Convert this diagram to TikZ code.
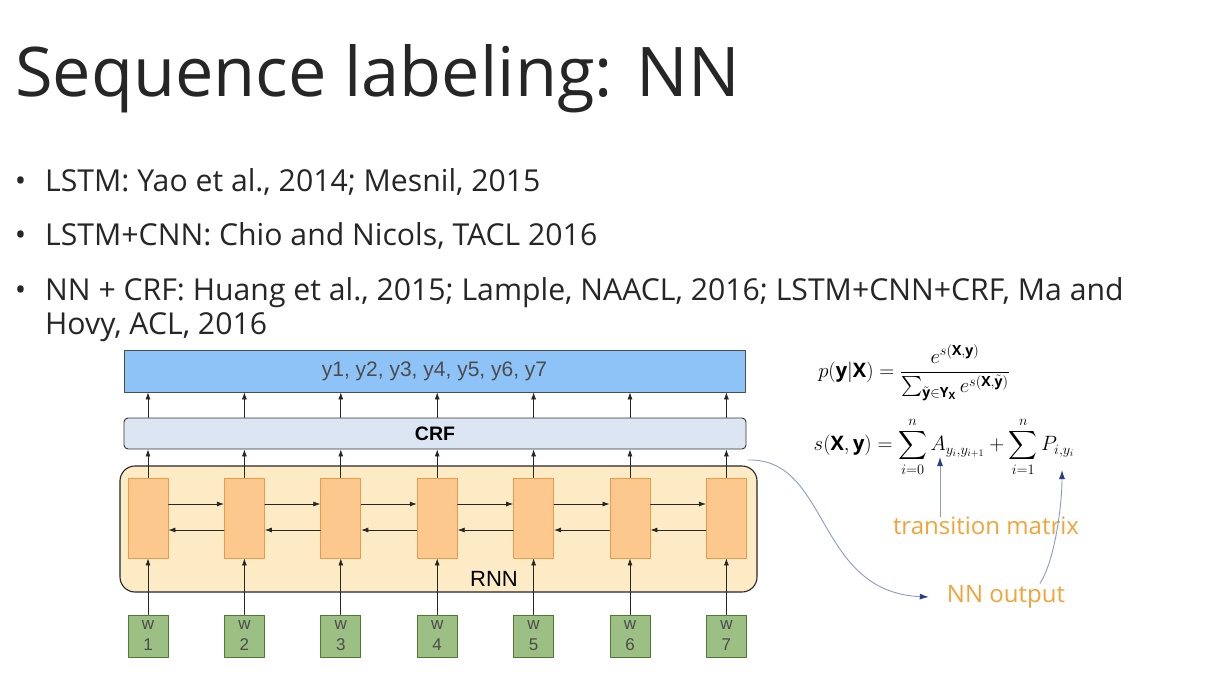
\documentclass[tikz,border=0pt]{standalone}
\usepackage{amsmath,amssymb}
\usepackage{fontspec}
\setmainfont{Open Sans}
\newfontfamily\diagfont{Liberation Sans}
\usetikzlibrary{arrows.meta,calc,positioning}
\definecolor{slidetext}{HTML}{262626}
\definecolor{outblue}{HTML}{8EC3F7}
\definecolor{crffill}{HTML}{DCE6F2}
\definecolor{rnnfill}{HTML}{FDEBC6}
\definecolor{cellfill}{HTML}{FCC88E}
\definecolor{cellline}{HTML}{EE9A4A}
\definecolor{wordfill}{HTML}{9CC084}
\definecolor{wordline}{HTML}{4E7A35}
\definecolor{noteorange}{HTML}{F2A43A}
\definecolor{noteline}{HTML}{8E9CC0}
\definecolor{notehead}{HTML}{2B3C8C}
\newcommand{\slidebullet}{\makebox[0pt][r]{\textbullet\hspace{19pt}}}
\tikzset{
every picture/.style={line cap=round,line join=round},
slide title/.style={anchor=base west, inner sep=0pt, text=slidetext,
  font=\fontsize{68.5}{72}\selectfont},
bullet text/.style={anchor=base west, inner sep=0pt, text=slidetext,
  font=\fontsize{30.2}{34}\selectfont},
out box/.style={draw=black!70, fill=outblue, line width=0.8pt,
  minimum width=621pt, minimum height=42pt, inner sep=0pt,
  font=\diagfont\fontsize{21}{24}\selectfont, text=black!70},
crf box/.style={draw=black!80, fill=crffill, rounded corners=4pt, line width=0.9pt,
  minimum width=622pt, minimum height=31pt, inner sep=0pt,
  font=\diagfont\bfseries\fontsize{19.5}{22}\selectfont},
rnn box/.style={draw=black!85, fill=rnnfill, rounded corners=15pt, line width=1.1pt,
  minimum width=637pt, minimum height=126pt, inner sep=0pt},
rnn label/.style={inner sep=0pt, font=\diagfont\fontsize{22}{24}\selectfont},
cell/.style={draw=cellline, fill=cellfill, line width=0.9pt,
  minimum width=40pt, minimum height=80pt, inner sep=0pt},
word box/.style={draw=wordline, fill=wordfill, line width=0.9pt,
  minimum width=40pt, minimum height=42pt, inner sep=0pt, align=center,
  font=\diagfont\fontsize{17}{21}\selectfont, text=black!70},
fig flow/.style={draw=black!85, -{Latex[length=7pt,width=5pt]}, line width=0.7pt},
formula/.style={inner sep=0pt, font=\fontsize{20}{24}\selectfont},
note label/.style={inner sep=0pt, text=noteorange, font=\fontsize{24}{28}\selectfont},
note arrow/.style={draw=noteline, line width=0.9pt,
  -{Latex[length=9pt,width=6pt,color=notehead]}}
}
\begin{document}
\begin{tikzpicture}[x=1pt,y=-1pt]
\useasboundingbox[fill=white] (0,0) rectangle (1205,679);

% title and bullets
\node[slide title] (title) at (15,97) {Sequence labeling: NN};
\node[bullet text] (b1) at (45,192) {\slidebullet LSTM: Yao et al., 2014; Mesnil, 2015};
\node[bullet text] (b2) at (45,246) {\slidebullet LSTM+CNN: Chio and Nicols, TACL 2016};
\node[bullet text] (b3) at (45,300) {\slidebullet NN + CRF: Huang et al., 2015; Lample, NAACL, 2016; LSTM+CNN+CRF, Ma and};
\node[bullet text] (b4) at (45,334) {Hovy, ACL, 2016};

% layers
\node[rnn box] (rnn) at (438.5,529) {};
\node[rnn label] (rnnlab) at (494,579) {RNN};
\node[crf box] (crf) at (435,433.5) {CRF};
\node[out box] (out) at (434.5,371) {y1, y2, y3, y4, y5, y6, y7};

\foreach \i in {1,...,7} {
  \node[cell] (c\i) at ({148+(\i-1)*96.4},518) {};
  \node[word box] (w\i) at ({148+(\i-1)*96.4},636) {w\\\i};
  \draw[fig flow] (w\i.north) -- (c\i.south);
  \draw[fig flow] (c\i.north) -- (c\i.north |- crf.south);
  \draw[fig flow] (c\i.north |- crf.north) -- (c\i.north |- out.south);
}
\foreach \i [evaluate=\i as \j using int(\i+1)] in {1,...,6} {
  \draw[fig flow] ([yshift=14pt]c\i.east) -- ([yshift=14pt]c\j.west);
  \draw[fig flow] ([yshift=-12pt]c\j.west) -- ([yshift=-12pt]c\i.east);
}

% CRF scoring
\node[formula] (pform) at (914,373)
  {$p(\mathbf{y}|\mathbf{X}) = \dfrac{e^{s(\mathbf{X},\mathbf{y})}}{\sum_{\tilde{\mathbf{y}}\in\mathbf{Y_X}} e^{s(\mathbf{X},\tilde{\mathbf{y}})}}$};
\node[formula] (sform) at (944,447)
  {$\displaystyle s(\mathbf{X},\mathbf{y}) = \sum_{i=0}^{n} A_{y_i,y_{i+1}} + \sum_{i=1}^{n} P_{i,y_i}$};
\node[note label] (trans) at (986,526) {transition matrix};
\node[note label] (nnout) at (1006,597) {NN output};
\coordinate (Aidx) at (940,457);
\coordinate (Pidx) at (1062,470);
\coordinate (tap) at (748,460);
\draw[note arrow] (trans.north -| Aidx) -- (Aidx);
\draw[note arrow] ([xshift=34pt,yshift=2pt]nnout.north) .. controls (1055,560) and (1062,505) .. (Pidx);
\draw[note arrow] (tap) .. controls (830,458) and (815,592) .. ([xshift=-18pt]nnout.west);
\end{tikzpicture}
\end{document}
